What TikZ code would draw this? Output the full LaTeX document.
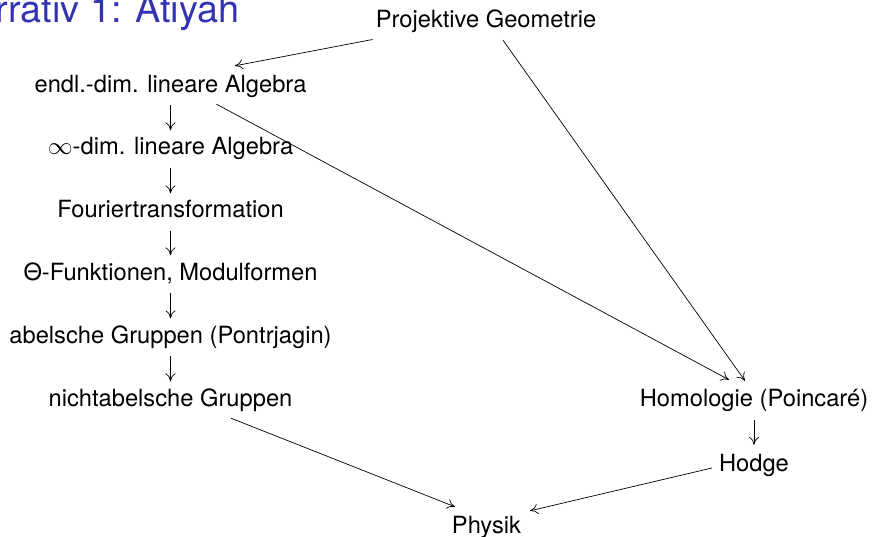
\documentclass[tikz,border=0pt]{standalone}
\usepackage{fontspec}
\setmainfont{TeX Gyre Heros}
\usetikzlibrary{arrows.meta}
\definecolor{titleblue}{RGB}{51,51,178}
\begin{document}
\begin{tikzpicture}[x=1pt,y=-1pt,
  concept/.style={inner sep=0pt, anchor=base, text height=17.5pt, text depth=5pt,
                  font=\fontsize{23.7}{28}\selectfont},
  link/.style={line width=0.7pt, -{To[length=8pt,width=10pt]}},
  down/.style={link, shorten <=7.5pt, shorten >=7pt}]
\useasboundingbox (0,0) rectangle (872,537);
\clip (0,0) rectangle (872,537);

% frame title
\node[inner sep=0pt, anchor=base east, text=titleblue,
      font=\fontsize{37.8}{44}\selectfont] (title) at (239.5,22.7) {rrativ 1: Atiyah};

% concepts
\node[concept] (proj) at (486,27.3)   {Projektive Geometrie};
\node[concept] (endl) at (170.5,92.5) {endl.-dim. lineare Algebra};
\node[concept] (inf)  at (170.5,155)  {$\infty$-dim. lineare Algebra};
\node[concept] (four) at (170.5,218)  {Fouriertransformation};
\node[concept] (theta) at (170.5,280) {Θ-Funktionen, Modulformen};
\node[concept] (abel) at (170.5,343)  {abelsche Gruppen (Pontrjagin)};
\node[concept] (nab)  at (170.5,406)  {nichtabelsche Gruppen};
\node[concept] (hom)  at (754,406)    {Homologie (Poincaré)};
\node[concept] (hod)  at (754,471)    {Hodge};
\node[concept] (phy)  at (486.5,533)  {Physik};

% left chain
\draw[down] (endl) -- (inf);
\draw[down] (inf) -- (four);
\draw[down] (four) -- (theta);
\draw[down] (theta) -- (abel);
\draw[down] (abel) -- (nab);

% right chain
\draw[link, shorten <=9pt, shorten >=8.5pt] (hom) -- (hod);

% diagonal connectors
\draw[link] ([xshift=-3pt,yshift=-7pt]proj.south west) -- ([xshift=64.5pt,yshift=9pt]endl.north);
\draw[link] ([xshift=17pt,yshift=-7.7pt]proj.south) -- ([xshift=-9pt,yshift=7.5pt]hom.north);
\draw[link] ([xshift=46pt,yshift=-6.5pt]endl.south) -- ([xshift=-25pt,yshift=8.5pt]hom.north);
\draw[link] ([xshift=60.5pt,yshift=-7pt]nab.south) -- ([xshift=-31.5pt,yshift=8.5pt]phy.north);
\draw[link] ([xshift=-7pt,yshift=-3.25pt]hod.west) -- ([xshift=43.5pt,yshift=4.5pt]phy.north);
\end{tikzpicture}
\end{document}
